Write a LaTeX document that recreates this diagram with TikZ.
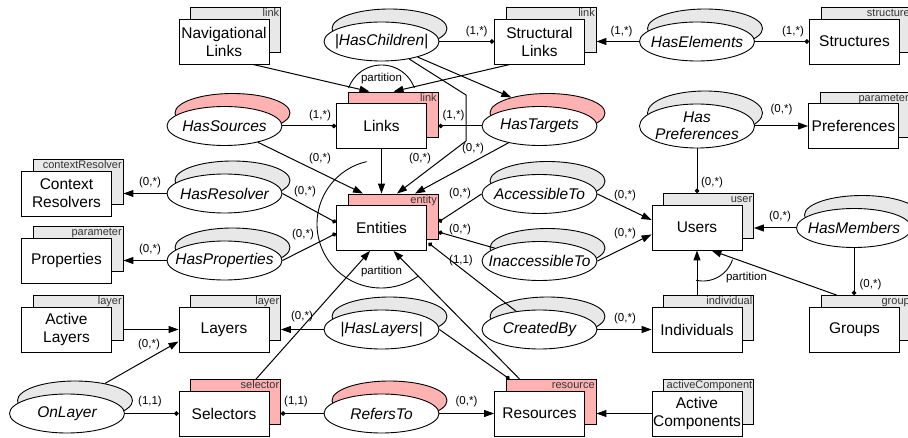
\documentclass[tikz,border=0pt]{standalone}
\usepackage{fontspec}
\setmainfont{Liberation Sans}
\usetikzlibrary{shapes.geometric,arrows.meta,calc}
\definecolor{pinkc}{RGB}{255,178,178}
\definecolor{grayc}{RGB}{232,232,232}
\tikzset{
 entfg/.style={draw, fill=white, line width=0.9pt, minimum width=90pt, minimum height=45pt, inner sep=0pt, align=center, font=\fontsize{15.5}{18}\selectfont},
 entbg/.style={draw, line width=0.9pt, minimum width=90pt, minimum height=45pt, inner sep=0pt},
 tagtext/.style={font=\fontsize{11}{12}\selectfont, text=black!80, inner sep=0pt},
 relfg/.style={ellipse, draw, fill=white, line width=0.9pt, minimum width=115pt, inner sep=0pt},
 relbg/.style={ellipse, draw, line width=0.9pt, minimum width=115pt, inner sep=0pt},
 reltext/.style={font=\fontsize{15.5}{17}\selectfont\itshape, align=center, inner sep=0pt},
 card/.style={font=\fontsize{11.5}{13}\selectfont, inner sep=0pt},
 conn/.style={line width=1pt},
 arr/.style={conn, -{Triangle[length=10pt,width=7pt]}},
 dotend/.style={conn, -{Circle[length=4.5pt]}},
 partarc/.style={line width=0.9pt},
}
% entity: name, x, y, text, tag, fill
\newcommand\ent[6]{%
 \node[entbg, fill=#6] (#1b) at (#2+11.5,#3-11.5) {};
 \node[tagtext, anchor=base east] (#1t) at ($(#1b.north east)+(-1.5,9.5)$) {#5};
 \node[entfg] (#1) at (#2,#3) {#4};}
% relationship: [height] name, x, y, text, shadow fill
\newcommand\relnode[6][39]{%
 \node[relbg, minimum height=#1pt, fill=#6] (#2S) at (#3+8,#4-13) {};
 \node[relfg, minimum height=#1pt] (#2) at (#3,#4) {};
 \node[reltext] (#2l) at (#2) {#5};}
\begin{document}
\begin{tikzpicture}[x=1pt,y=-1pt]
\fill[white] (0,0) rectangle (908,438);
\useasboundingbox (0,0) rectangle (908,438);
% entities
\ent{NavLinks}{224}{41.5}{Navigational\\Links}{link}{grayc}
\ent{StructLinks}{539.5}{41.5}{Structural\\Links}{link}{grayc}
\ent{Structures}{854.5}{41.5}{Structures}{structure}{grayc}
\ent{Links}{381.5}{126}{Links}{link}{pinkc}
\ent{Preferences}{853.5}{126}{Preferences}{parameter}{grayc}
\ent{CtxRes}{66.5}{193.5}{Context\\Resolvers}{contextResolver}{grayc}
\ent{Properties}{66.5}{260.5}{Properties}{parameter}{grayc}
\ent{Entities}{381.5}{228}{Entities}{entity}{pinkc}
\ent{Users}{697}{227.5}{Users}{user}{grayc}
\ent{ActLayers}{66.5}{329.5}{Active\\Layers}{layer}{grayc}
\ent{Layers}{224}{329.5}{Layers}{layer}{grayc}
\ent{Individuals}{697}{329.5}{Individuals}{individual}{grayc}
\ent{Groups}{854.5}{329.5}{Groups}{group}{grayc}
\ent{Selectors}{224}{413.5}{Selectors}{selector}{pinkc}
\ent{Resources}{539.5}{413.5}{Resources}{resource}{pinkc}
\ent{ActComp}{697}{413.5}{Active\\Components}{activeComponent}{grayc}
% relationships
\relnode{HasChildren}{381.5}{41.5}{|HasChildren|}{grayc}
\relnode{HasElements}{697}{41.5}{HasElements}{grayc}
\relnode{HasSources}{224.5}{126}{HasSources}{pinkc}
\relnode{HasTargets}{539.5}{126}{HasTargets}{pinkc}
\relnode[44]{HasPrefs}{697}{126}{Has\\Preferences}{grayc}
\relnode{HasResolver}{224.5}{193.5}{HasResolver}{grayc}
\relnode{AccessibleTo}{539.5}{194}{AccessibleTo}{grayc}
\relnode{HasMembers}{854}{228}{HasMembers}{grayc}
\relnode{HasProperties}{224.5}{260.5}{HasProperties}{grayc}
\relnode{InaccessibleTo}{539.5}{261}{InaccessibleTo}{grayc}
\relnode{HasLayers}{381.5}{329.5}{|HasLayers|}{grayc}
\relnode{CreatedBy}{539.5}{329.5}{CreatedBy}{grayc}
\relnode{OnLayer}{67}{413.5}{OnLayer}{grayc}
\relnode{RefersTo}{381.5}{413.5}{RefersTo}{pinkc}
% helper coordinates
\coordinate (LinksTop) at (Links.north |- Linksb.north);
\coordinate (EntTop) at (Entities.north |- Entitiesb.north);
\coordinate (hc1) at (466,95);
\coordinate (hc2) at (466,141);
% connectors
\draw[arr] ($(NavLinks.south)+(29,0)$) -- ($(LinksTop)+(-12,0)$);
\draw[arr] ($(StructLinks.south)+(-29.5,0)$) -- ($(LinksTop)+(12,0)$);
\draw[dotend] (HasChildren) -- (StructLinks);
\draw[arr] (HasChildren) -- (HasTargetsS);
\draw[arr] (HasChildren) -- (hc1) -- (hc2) -- ($(EntTop)+(15.5,0)$);
\draw[arr] (HasTargets) -- ($(EntTop)+(33.5,0)$);
\draw[arr] (Links) -- (EntTop);
\draw[arr] (HasSources) -- ($(EntTop)+(-18.5,0)$);
\draw[dotend] (HasSources) -- (Links);
\draw[dotend] (HasTargets.west) -- (HasTargets.west -| Linksb.east);
\draw[arr] (HasElements.west) -- (HasElements.west -| StructLinksb.east);
\draw[dotend] (HasElements) -- (Structures);
\draw[arr] (HasPrefs) -- (Preferences);
\draw[dotend] (HasPrefs.south) -- (HasPrefs.south |- Usersb.north);
\draw[arr] (HasResolver.west) -- (HasResolver.west -| CtxResb.east);
\draw[dotend] (HasResolver.east) -- ($(Entities.west)+(0,-5.5)$);
\draw[arr] (HasProperties.west) -- (HasProperties.west -| Propertiesb.east);
\draw[dotend] (HasProperties.east) -- ($(Entities.west)+(0,5.5)$);
\draw[dotend] (AccessibleTo.west) -- ($(Entitiesb.east)+(0,5.5)$);
\draw[dotend] (InaccessibleTo) -- ($(Entitiesb.east)+(0,15.5)$);
\draw[dotend] (CreatedBy) -- ($(Entities.east)+(1.5,15)$);
\draw[arr] (AccessibleTo.east) -- ($(Users.west)+(0,-7.5)$);
\draw[arr] (InaccessibleTo.east) -- ($(Users.west)+(0,7)$);
\draw[arr] (HasMembers.west) -- (HasMembers.west -| Usersb.east);
\draw[dotend] (HasMembers.south) -- (HasMembers.south |- Groupsb.north);
\draw[arr] (Users.south |- Individualsb.north) -- (Users.south);
\draw[arr] ($(Groupsb.north west)+(16,0)$) -- ($(Users.south)+(14.5,0)$);
\draw[arr] (CreatedBy) -- (Individuals);
\draw[arr] (HasLayers.west) -- (HasLayers.west -| Layersb.east);
\draw[dotend] (HasLayers.east) -- ($(Resourcesb.north west)+(4,0)$);
\draw[arr] ($(Resourcesb.north west)+(14,0)$) -- ($(Entities.south)+(12,0)$);
\draw[arr] ($(Selectorsb.north west)+(66,0)$) -- ($(Entities.south)+(-11.5,0)$);
\draw[arr] (OnLayerS) -- ($(Layers.west)+(0,12)$);
\draw[arr] (ActLayers.east -| ActLayersb.east) -- (Layers.west);
\draw[dotend] (OnLayer) -- (Selectors);
\draw[dotend] (RefersTo.west) -- (RefersTo.west -| Selectorsb.east);
\draw[arr] (RefersTo) -- (Resources);
\draw[arr] (ActComp.west) -- (ActComp.west -| Resourcesb.east);
% partition arcs
\draw[partarc] plot[domain=20:160, samples=40, variable=\t] ({381.5+35*cos(\t)},{100-35*sin(\t)});
\draw[partarc] plot[domain=103:305, samples=80, variable=\t] ({381+64*cos(\t)},{224-64*sin(\t)});
\draw[partarc] plot[domain=257:342, samples=30, variable=\t] ({703+31*cos(\t)},{250-31*sin(\t)});
\node[card] (p1) at (381.5,79) {partition};
\node[card] (p2) at (381.5,271.5) {partition};
\node[card] (p3) at (746.5,278) {partition};
% cardinalities
\node[card] (c1) at (476.7,31.5) {(1,*)};
\node[card] (c2) at (621.5,31.5) {(1,*)};
\node[card] (c3) at (793,31.5) {(1,*)};
\node[card] (c4) at (781.5,110) {(0,*)};
\node[card] (c5) at (712,182.5) {(0,*)};
\node[card] (c6) at (320,116) {(1,*)};
\node[card] (c7) at (453.5,116) {(1,*)};
\node[card] (c8) at (320,159) {(0,*)};
\node[card] (c9) at (420,159) {(0,*)};
\node[card] (c10) at (473,149) {(0,*)};
\node[card] (c11) at (305,191.5) {(0,*)};
\node[card] (c12) at (303,235) {(0,*)};
\node[card] (c13) at (150,183) {(0,*)};
\node[card] (c14) at (150,250) {(0,*)};
\node[card] (c15) at (460,193.5) {(0,*)};
\node[card] (c16) at (460,229.5) {(0,*)};
\node[card] (c17) at (461,261) {(1,1)};
\node[card] (c18) at (625,196) {(0,*)};
\node[card] (c19) at (625,233.5) {(0,*)};
\node[card] (c20) at (780,216.5) {(0,*)};
\node[card] (c21) at (870.5,285) {(0,*)};
\node[card] (c22) at (625,318.5) {(0,*)};
\node[card] (c23) at (302,316.5) {(0,*)};
\node[card] (c24) at (149,344.5) {(0,*)};
\node[card] (c25) at (150,401.5) {(1,1)};
\node[card] (c26) at (296,402) {(1,1)};
\node[card] (c27) at (466.5,402) {(0,*)};
\end{tikzpicture}
\end{document}
